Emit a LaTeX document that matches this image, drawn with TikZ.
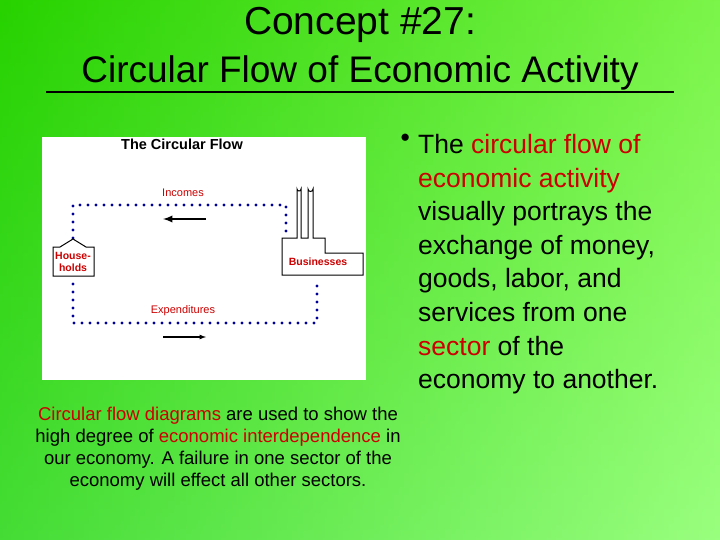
\documentclass[tikz,border=0pt]{standalone}
\usepackage{fontspec}
\setmainfont{Liberation Sans}
\begin{document}
\begin{tikzpicture}[x=1pt,y=-1pt,
  dots/.style={draw=blue!60!black,line width=3.4pt,dash pattern=on 0pt off 8pt,line cap=round},
  lbl/.style={font=\fontsize{10.5}{11}\selectfont\bfseries,text=red!80!black,inner sep=0pt},
  arr/.style={-latex,line width=1.2pt}]
\useasboundingbox (0,0) rectangle (720,540);
\shade[top color=green!60!lime!90!black, bottom color=green!45!white!95!lime, shading angle=0] (0,0) rectangle (720,540);
\shade[left color=green!75!black!90!lime,right color=green!40!white!80!lime,opacity=0.6] (0,0) rectangle (720,540);
\node[font=\fontsize{39}{40}\selectfont] (t1) at (360,25) {Concept \#27:};
\node[font=\fontsize{37}{38}\selectfont] (t2) at (360,73) {Circular Flow of Economic Activity};
\draw[line width=1.4pt] (46,92) -- (674,92);
% diagram
\fill[white] (42,137) rectangle (366,380);
\node[font=\fontsize{14.5}{16}\selectfont\bfseries,inner sep=0pt] (ct) at (182,144) {The Circular Flow};
\coordinate (tl) at (73,205); \coordinate (tr) at (286,205);
\coordinate (bl) at (73,323); \coordinate (br) at (317,323);
\draw[dots] (73,238) -- (tl) -- (tr) -- (286,233);
\draw[dots] (73,284) -- (bl) -- (br) -- (317,284);
\draw[line width=1pt,fill=white] (53,247) -- (53,276) -- (94,276) -- (94,247) -- (86,247) -- (73,239) -- (60,247) -- cycle;
\node[lbl,align=center,font=\fontsize{10.5}{12}\selectfont\bfseries] (hh) at (73,262) {House-\\holds};
\draw[line width=1pt,fill=white] (282,238) -- (297,238) -- (297,189) arc(180:0:2) -- (301,238) -- (308,238) -- (308,189) arc(180:0:2.5) -- (313,238) -- (325,238) -- (325,253) -- (363,253) -- (363,275) -- (282,275) -- cycle;
\node[lbl] (bz) at (318,262) {Businesses};
\node[lbl,font=\fontsize{11}{12}\selectfont] (inc) at (183,193) {Incomes};
\node[lbl,font=\fontsize{11}{12}\selectfont] (exp) at (183,311) {Expenditures};
\coordinate (a1) at (206,219); \coordinate (a2) at (163,219);
\draw[arr,line width=2.2pt] (a1) -- (a2);
\coordinate (b1) at (163,337); \coordinate (b2) at (206,337);
\draw[arr] (b1) -- (b2);
% bullet text
\node[anchor=north west,font=\fontsize{26.5}{33.6}\selectfont,align=left,inner sep=0pt] (bt) at (418,134)
{The \textcolor{red!80!black}{circular flow of}\\ \textcolor{red!80!black}{economic activity}\\visually portrays the\\exchange of money,\\goods, labor, and\\services from one\\\textcolor{red!80!black}{sector} of the\\economy to another.};
\node[anchor=north east,font=\fontsize{26.5}{33.6}\selectfont,inner sep=0pt] (bul) at (410,134) {•};
\node[font=\fontsize{18.5}{22}\selectfont,align=center] (bot) at (218,449)
{\textcolor{red!80!black}{Circular flow diagrams} are used to show the\\high degree of \textcolor{red!80!black}{economic interdependence} in\\our economy.  A failure in one sector of the\\economy will effect all other sectors.};
\end{tikzpicture}
\end{document}
